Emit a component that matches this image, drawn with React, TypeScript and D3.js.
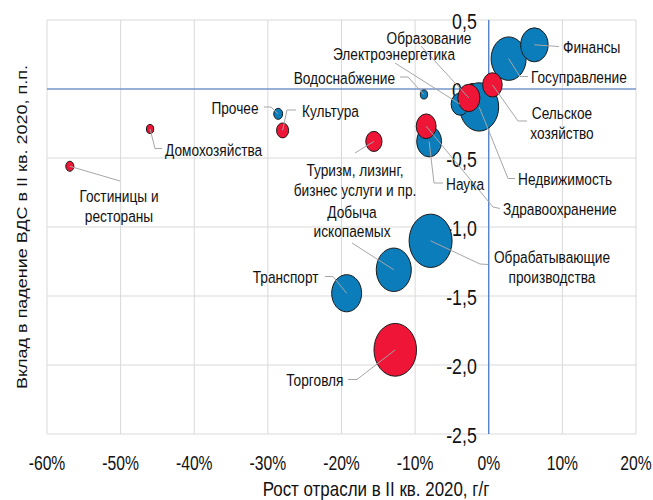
import React from 'react';
import * as d3 from 'd3';

const sectors = [
  'Финансы', 'Госуправление', 'Сельское хозяйство', 'Недвижимость', 'Образование',
  'Электроэнергетика', 'Водоснабжение', 'Здравоохранение', 'Наука', 'Туризм',
  'Культура', 'Прочее', 'Домохозяйства', 'Гостиницы', 'Обрабатывающие',
  'Добыча', 'Транспорт', 'Торговля',
];
// growth of sector, % y/y
const growth = [6.2, 2.7, 0.5, -1.3, -2.7, -3.9, -8.8, -8.5, -8.1, -15.6, -28.0, -28.6, -46.0, -56.9, -7.9, -12.9, -19.3, -12.7];
// contribution to GVA decline, p.p.
const contribution = [0.32, 0.22, 0.03, -0.13, -0.065, -0.11, -0.04, -0.27, -0.38, -0.38, -0.3, -0.18, -0.29, -0.56, -1.1, -1.31, -1.48, -1.89];
// bubble size (share)
const weight = [5.7, 9.3, 2.9, 11.5, 3.7, 2.4, 0.4, 3.0, 4.7, 2.0, 1.1, 0.6, 0.4, 0.5, 14.0, 9.3, 6.8, 13.7];
const group = ['b', 'b', 'r', 'b', 'r', 'b', 'b', 'r', 'b', 'r', 'r', 'b', 'r', 'r', 'b', 'b', 'b', 'r'];

const xTicks = [-60, -50, -40, -30, -20, -10, 0, 10, 20];
const yTicks = [-2.5, -2.0, -1.5, -1.0, -0.5, 0.0, 0.5];

const xTitle = 'Рост отрасли в II кв. 2020, г/г';
const yTitle = 'Вклад в падение ВДС в II кв. 2020, п.п.';

// label layout (pixels): text lines, anchor, center position and leader bend points
type Lab = { lines: string[]; x: number; y: number; anchor: string; via: [number, number][] };
const labelLayout: Record<string, Lab> = {
  'Финансы': { lines: ['Финансы'], x: 563, y: 46.5, anchor: 'start', via: [[559, 46.5]] },
  'Госуправление': { lines: ['Госуправление'], x: 531, y: 76.5, anchor: 'start', via: [[520, 76.5], [528, 76.5]] },
  'Сельское хозяйство': { lines: ['Сельское', 'хозяйство'], x: 562, y: 123, anchor: 'middle', via: [[518, 121], [527, 121]] },
  'Недвижимость': { lines: ['Недвижимость'], x: 518, y: 178.5, anchor: 'start', via: [[508, 178.5], [515, 178.5]] },
  'Образование': { lines: ['Образование'], x: 429, y: 38, anchor: 'middle', via: [[421, 46]] },
  'Электроэнергетика': { lines: ['Электроэнергетика'], x: 394, y: 53.5, anchor: 'middle', via: [[395, 63]] },
  'Водоснабжение': { lines: ['Водоснабжение'], x: 395, y: 78, anchor: 'end', via: [[408, 77], [400, 77]] },
  'Здравоохранение': { lines: ['Здравоохранение'], x: 503, y: 209, anchor: 'start', via: [[493, 207], [500, 208.5]] },
  'Наука': { lines: ['Наука'], x: 446, y: 183.5, anchor: 'start', via: [[434, 183], [443, 183]] },
  'Туризм': { lines: ['Туризм, лизинг,', 'бизнес услуги и пр.'], x: 355, y: 180, anchor: 'middle', via: [[355, 153]] },
  'Культура': { lines: ['Культура'], x: 302, y: 111, anchor: 'start', via: [[287, 110], [296, 110]] },
  'Прочее': { lines: ['Прочее'], x: 258.5, y: 108, anchor: 'end', via: [[271, 107], [264, 107]] },
  'Домохозяйства': { lines: ['Домохозяйства'], x: 165, y: 149.5, anchor: 'start', via: [[155, 148.5], [162, 148.5]] },
  'Гостиницы': { lines: ['Гостиницы и', 'рестораны'], x: 119, y: 206, anchor: 'middle', via: [[120, 181]] },
  'Обрабатывающие': { lines: ['Обрабатывающие', 'производства'], x: 552, y: 267, anchor: 'middle', via: [[480, 264], [488, 264.5]] },
  'Добыча': { lines: ['Добыча', 'ископаемых'], x: 352, y: 221.5, anchor: 'middle', via: [[352, 243]] },
  'Транспорт': { lines: ['Транспорт'], x: 318.5, y: 276.5, anchor: 'end', via: [[333, 276.5], [325, 276.5]] },
  'Торговля': { lines: ['Торговля'], x: 343.5, y: 380, anchor: 'end', via: [[357, 379.5], [348, 379.5]] },
};

const FONT = '"Liberation Sans", Arial, sans-serif';
const BLUE = '#0B7DBB';
const RED = '#EE1537';
const AXIS = '#4472C4';
const GRID = '#D9D9D9';
const LEADER = '#A6A6A6';
const SQ = 0.806; // horizontal squeeze of the original picture

export default function App() {
  const W = 653, H = 500;
  const x = d3.scaleLinear().domain([-60, 20]).range([47, 636]);
  const y = d3.scaleLinear().domain([-2.5, 0.5]).range([434, 20]);
  const r = d3.scaleSqrt().domain([0, 14]).range([0, 21.5]);
  const aspect = 1 / SQ;

  const data = sectors.map((s, i) => ({ s, gx: growth[i], cy: contribution[i], w: weight[i], g: group[i] }));
  const order = [...data.filter(d => d.g === 'b').sort((a, b) => b.w - a.w), ...data.filter(d => d.g === 'r').sort((a, b) => b.w - a.w)];
  const fmtY = (v: number) => d3.format('.1f')(v).replace('.', ',').replace('−', '-');
  const line = d3.line();
  const tr = (px: number, py: number) => `translate(${px},${py}) scale(${SQ},1)`;

  return (
    <svg width={W} height={H} style={{ position: 'absolute', left: 0, top: 0, background: '#fff' }} fontFamily={FONT}>
      <rect width={W} height={H} fill="#fff" />
      {/* gridlines */}
      {yTicks.map(t => (
        <line key={'gy' + t} x1={x(-60)} x2={x(20)} y1={y(t)} y2={y(t)} stroke={GRID} strokeWidth={1} />
      ))}
      {xTicks.map(t => (
        <line key={'gx' + t} x1={x(t)} x2={x(t)} y1={y(0.5)} y2={y(-2.5)} stroke={GRID} strokeWidth={1} />
      ))}
      {/* zero axes */}
      <line x1={x(-60)} x2={x(20)} y1={y(0)} y2={y(0)} stroke={AXIS} strokeWidth={1.2} />
      <line x1={x(0)} x2={x(0)} y1={y(0.5)} y2={y(-2.5)} stroke={AXIS} strokeWidth={1.2} />
      {/* y tick labels, at the vertical axis */}
      {yTicks.map(t => (
        <text key={'ty' + t} transform={tr(x(0) - 12, y(t) + 1)} textAnchor="end" dominantBaseline="central" fontSize={22} fill="#111">
          {fmtY(t)}
        </text>
      ))}
      {/* x tick labels */}
      {xTicks.map(t => (
        <text key={'tx' + t} transform={tr(x(t), 463)} textAnchor="middle" dominantBaseline="central" fontSize={19.5} fill="#111">
          {t + '%'}
        </text>
      ))}
      {/* bubbles */}
      {order.map(d => {
        const rx = r(d.w);
        return (
          <ellipse key={d.s} cx={x(d.gx)} cy={y(d.cy)} rx={rx} ry={rx * aspect}
            fill={d.g === 'b' ? BLUE : RED} stroke="#1a1a1a" strokeWidth={1} />
        );
      })}
      {/* leader lines */}
      {data.map(d => {
        const L = labelLayout[d.s];
        const pts: [number, number][] = [[x(d.gx), y(d.cy)], ...L.via];
        return <path key={'l' + d.s} d={line(pts) || ''} fill="none" stroke={LEADER} strokeWidth={1} />;
      })}
      {/* labels */}
      {data.map(d => {
        const L = labelLayout[d.s];
        const lh = 19.5;
        const y0 = -((L.lines.length - 1) * lh) / 2;
        return (
          <text key={'t' + d.s} transform={tr(L.x, L.y)} textAnchor={L.anchor} fontSize={17} fill="#111">
            {L.lines.map((ln, k) => (
              <tspan key={k} x={0} y={y0 + k * lh} dominantBaseline="central">{ln}</tspan>
            ))}
          </text>
        );
      })}
      {/* axis titles */}
      <text transform={tr(376, 489)} textAnchor="middle" dominantBaseline="central" fontSize={21} fill="#111">{xTitle}</text>
      <text transform={`translate(22,227) scale(${SQ},1) rotate(-90)`} textAnchor="middle" dominantBaseline="central" fontSize={18} fill="#111">{yTitle}</text>
    </svg>
  );
}
